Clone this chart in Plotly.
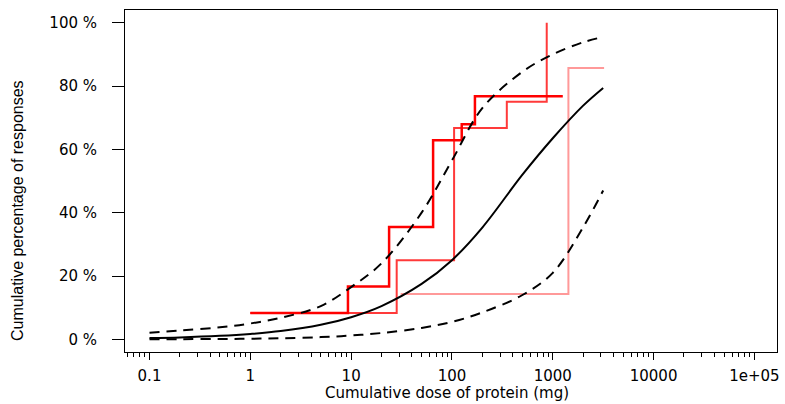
import plotly.graph_objects as go

# Fitted curve and confidence band
dose = [0.1, 0.2, 0.5, 1, 2, 5, 10, 20, 50, 100, 200, 500, 1000, 2000, 3162]
fit = [0.4, 0.6, 1.1, 1.7, 2.6, 4.6, 7.0, 10.5, 17.5, 25.0, 35.3, 52.0, 63.5, 73.8, 79.4]
upper = [2.1, 2.8, 3.8, 5.0, 6.8, 10.5, 16.5, 24.0, 40.0, 56.5, 73.0, 84.5, 90.0, 93.8, 95.5]
lower = [0.0, 0.05, 0.1, 0.2, 0.35, 0.7, 1.2, 2.0, 3.6, 5.5, 8.5, 14.0, 21.0, 35.4, 47.0]

# Observed cumulative step functions
a_dose = [1, 9.3, 23.8, 65, 125, 169, 1257]
a_pct = [8.3, 16.7, 35.5, 62.9, 67.9, 76.8, 76.8]
b_dose = [1, 28.3, 105, 350, 871]
b_pct = [8.3, 25.0, 66.7, 75.0, 100.0]
c_dose = [31, 1429, 3228]
c_pct = [14.3, 85.7, 85.7]

y_ticks = [0, 20, 40, 60, 80, 100]
y_labels = ["0 %", "20 %", "40 %", "60 %", "80 %", "100 %"]
x_ticks = [0.1, 1, 10, 100, 1000, 10000, 100000]
x_labels = ["0.1", "1", "10", "100", "1000", "10000", "1e+05"]

fig = go.Figure()
fig.add_trace(go.Scatter(x=c_dose, y=c_pct, mode="lines", line_shape="hv",
                         line=dict(color="#ff9999", width=2)))
fig.add_trace(go.Scatter(x=b_dose, y=b_pct, mode="lines", line_shape="hv",
                         line=dict(color="#ff3a3a", width=2)))
fig.add_trace(go.Scatter(x=a_dose, y=a_pct, mode="lines", line_shape="hv",
                         line=dict(color="#ff0000", width=2.5)))
fig.add_trace(go.Scatter(x=dose, y=fit, mode="lines", line_shape="spline",
                         line=dict(color="black", width=2)))
fig.add_trace(go.Scatter(x=dose, y=upper, mode="lines", line_shape="spline",
                         line=dict(color="black", width=2, dash="10px,7px")))
fig.add_trace(go.Scatter(x=dose, y=lower, mode="lines", line_shape="spline",
                         line=dict(color="black", width=2, dash="10px,7px")))

tickfont = dict(family="DejaVu Sans", size=15, color="black")

L, R, T, B = 125, 777, 10, 352
W, H = R - L, B - T

fig.update_layout(
    width=785, height=404,
    margin=dict(l=L, r=785 - R, t=T, b=404 - B, autoexpand=False),
    paper_bgcolor="white", plot_bgcolor="white",
    showlegend=False,
    xaxis=dict(
        type="log", range=[-1.243, 5.224], automargin=False,
        tickvals=x_ticks, ticktext=x_labels,
        ticks="outside", ticklen=7, tickwidth=1, tickcolor="black",
        tickfont=tickfont, ticklabelstandoff=3,
        minor=dict(ticks="outside", ticklen=4, tickwidth=1, tickcolor="black", dtick="D1"),
        showgrid=False, zeroline=False,
        showline=True, linecolor="black", linewidth=1, mirror=True,
    ),
    yaxis=dict(
        range=[-4, 104], automargin=False,
        tickvals=y_ticks, ticktext=y_labels,
        ticks="outside", ticklen=12, tickwidth=1, tickcolor="black",
        tickfont=tickfont, ticklabelstandoff=12,
        showgrid=False, zeroline=False,
        showline=True, linecolor="black", linewidth=1, mirror=True,
    ),
    annotations=[
        dict(text="Cumulative percentage of responses",
             xref="paper", yref="paper", x=(17 - L) / W, y=(B - 211) / H,
             textangle=-90, showarrow=False, xanchor="center", yanchor="middle",
             font=dict(family="Liberation Sans Narrow, Liberation Sans", size=16, color="black")),
        dict(text="Cumulative dose of protein (mg)",
             xref="paper", yref="paper", x=(447 - L) / W, y=(B - 393) / H,
             showarrow=False, xanchor="center", yanchor="middle",
             font=dict(family="DejaVu Sans", size=15, color="black")),
    ],
)

fig.write_html("out.html", config={"displayModeBar": False},
               post_script="document.body.style.margin='0px';document.body.style.overflow='hidden';")
